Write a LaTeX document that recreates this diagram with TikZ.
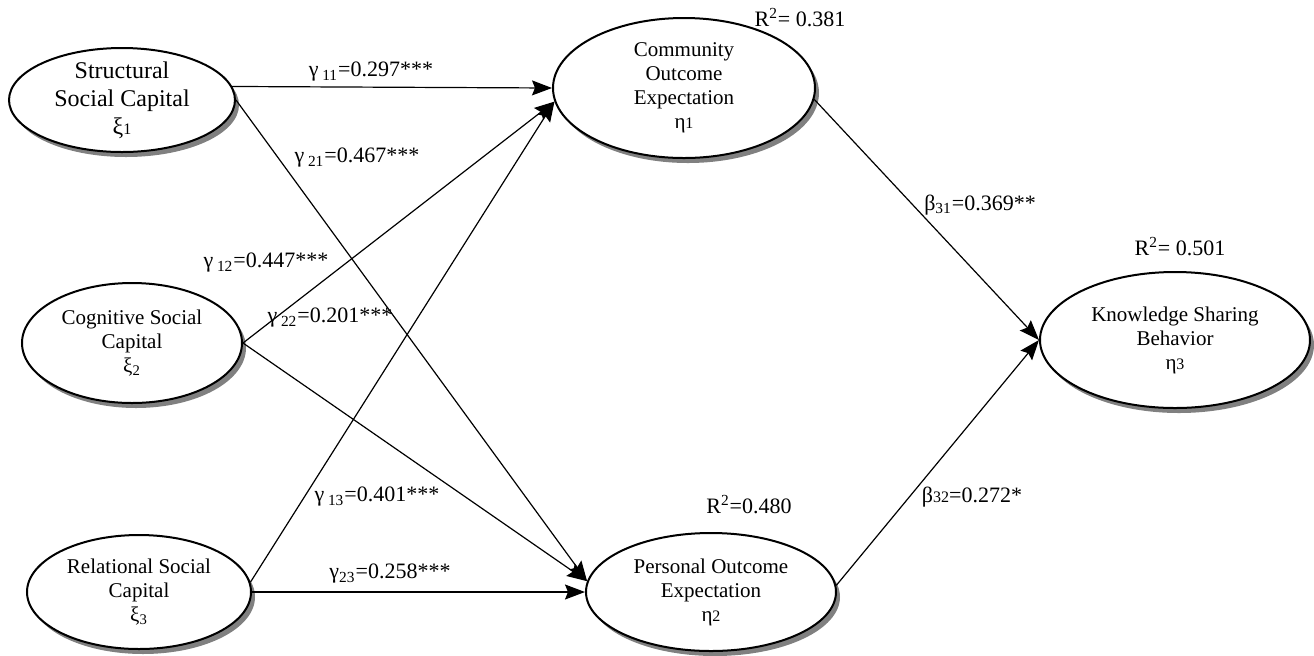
\documentclass[tikz,border=0pt]{standalone}
\usepackage{fontspec}
\setmainfont{Liberation Serif}
\usetikzlibrary{shapes.geometric,shadows,arrows.meta}

\begin{document}
\begin{tikzpicture}[x=0.5pt,y=-0.5pt,
    every node/.style={font=\fontsize{10.5}{12}\selectfont},
    latent/.style={ellipse,draw,line width=1pt,fill=white,inner sep=0pt,align=center,
      drop shadow={shadow xshift=2pt,shadow yshift=-2.5pt,fill=black!50,opacity=1}},
    coef/.style={font=\fontsize{11}{13}\selectfont,inner sep=1pt},
    link/.style={-{Stealth[length=10pt,width=7.5pt,inset=1.5pt]},line width=0.6pt}]
    \useasboundingbox (0,0) rectangle (1314,655);

    \node[latent,minimum width=113pt,minimum height=52pt,inner ysep=-2pt,
      font=\fontsize{12}{14}\selectfont] (S) at (122,100) {Structural\\Social Capital\\ξ{\footnotesize 1}};
    \node[latent,minimum width=110pt,minimum height=60pt] (G) at (132,343) {Cognitive Social\\Capital\\ξ\textsubscript{2}};
    \node[latent,minimum width=112pt,minimum height=57pt] (R) at (139,592) {Relational Social\\Capital\\ξ\textsubscript{3}};
    \node[latent,minimum width=131pt,minimum height=70pt] (C) at (684,88) {Community\\Outcome\\Expectation\\η{\footnotesize 1}};
    \node[latent,minimum width=125pt,minimum height=59pt] (P) at (711,592) {Personal Outcome\\Expectation\\η{\footnotesize 2}};
    \node[latent,minimum width=135pt,minimum height=68pt] (K) at (1175,340) {Knowledge Sharing\\Behavior\\η{\footnotesize 3}};

    \path[link] (S.7) edge (C.west);
    \path[link] (S.east) edge (P.175);
    \path[link] (G.east) edge (C.186);
    \path[link] (G.east) edge (P.175);
    \path[link] (R.5) edge (C.186);
    \path[link] (R.east) edge (P.west);
    \path[link] (C.355) edge (K.west);
    \path[link] (P.3) edge (K.west);

    \node[coef] (g11) at (371,72) {γ\,\textsubscript{11}=0.297***};
    \node[coef] (g21) at (357,158) {γ\,\textsubscript{21}=0.467***};
    \node[coef] (g12) at (266,263) {γ\,\textsubscript{12}=0.447***};
    \node[coef] (g22) at (330,318) {γ\,\textsubscript{22}=0.201***};
    \node[coef] (g13) at (377,497) {γ\,\textsubscript{13}=0.401***};
    \node[coef] (g23) at (390,574) {γ\textsubscript{23}=0.258***};
    \node[coef] (b31) at (980,205) {β\textsubscript{31}=0.369**};
    \node[coef] (b32) at (972,497) {β{\footnotesize 32}=0.272*};
    \node[coef] (rc) at (800,18) {R\textsuperscript{2}= 0.381};
    \node[coef] (rk) at (1180,247) {R\textsuperscript{2}= 0.501};
    \node[coef] (rp) at (749,505) {R\textsuperscript{2}=0.480};
  \end{tikzpicture}
\end{document}
